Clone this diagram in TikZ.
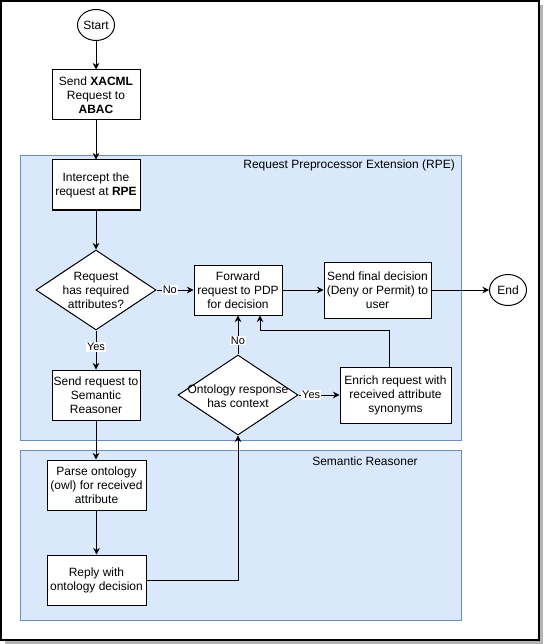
\documentclass[tikz,border=0pt]{standalone}
\usepackage{fontspec}
\setmainfont{Liberation Sans}
\usetikzlibrary{shapes.geometric,arrows.meta}

\definecolor{groupfill}{HTML}{DAE8FC}
\definecolor{groupline}{HTML}{6C8EBF}
\definecolor{shadowgray}{HTML}{B3B3B3}

\begin{document}
\begin{tikzpicture}[x=1pt,y=-1pt,
  font=\fontsize{12}{14}\selectfont,
  box/.style={draw,fill=white,line width=1pt,inner sep=0pt,align=center,
    minimum width=88,minimum height=50},
  term/.style={draw,fill=white,line width=1pt,ellipse,inner sep=0pt,
    minimum width=37,minimum height=31},
  decision/.style={draw,fill=white,line width=1pt,diamond,inner sep=0pt,
    minimum width=120,minimum height=80},
  dtext/.style={align=center,inner sep=0pt},
  group/.style={draw=groupline,fill=groupfill,line width=0.9pt,inner sep=0pt,
    anchor=north west},
  arr/.style={draw,line width=1pt,-{Stealth[length=6.5pt,width=6.5pt,inset=2pt]}},
  lbl/.style={fill=white,inner sep=0.8pt,font=\fontsize{11}{12}\selectfont}]

\useasboundingbox (0,0) rectangle (543,644);

% page frame with drop shadow
\fill[shadowgray] (5,5) rectangle (543,644);
\draw[line width=1.2pt,fill=white] (1,1) rectangle (539,640);

% swimlane groups
\node[group,minimum width=441,minimum height=285] (rpe) at (20,155) {};
\node[anchor=east,inner sep=0pt] (rpelbl) at (455,165) {Request Preprocessor Extension (RPE)};
\node[group,minimum width=441,minimum height=170] (sr) at (20,450) {};
\node[inner sep=0pt] (srlbl) at (365,461) {Semantic Reasoner};

% flow nodes
\node[term] (start) at (96,25) {Start};
\node[box] (xacml) at (96,95) {Send \textbf{XACML}\\Request to\\\textbf{ABAC}};
\node[box] (intercept) at (96,185) {Intercept the\\request at \textbf{RPE}};
\node[decision] (q1) at (96,290) {};
\node[dtext] (q1t) at (96,290) {Request\\has required\\attributes?};
\node[box] (sendsr) at (96,395) {Send request to\\Semantic\\Reasoner};
\node[box] (fwd) at (238,290) {Forward\\request to PDP\\for decision};
\node[box,minimum width=107,minimum height=56] (final) at (377.5,290) {Send final decision\\(Deny or Permit) to\\user};
\node[term] (end) at (508,290) {End};
\node[decision] (q2) at (238,395) {};
\node[dtext] (q2t) at (238,396) {Ontology response\\has context};
\node[box,minimum width=111,minimum height=56] (enrich) at (395.5,395) {Enrich request with\\received attribute\\synonyms};
\node[box,minimum width=99] (parse) at (96.5,485) {Parse ontology\\(owl) for received\\attribute};
\node[box,minimum width=99] (reply) at (96.5,580) {Reply with\\ontology decision};

\coordinate (bend) at (260,330);

% connectors
\draw[arr] (start) -- (xacml);
\draw[arr] (xacml) -- (intercept);
\draw[arr] (intercept) -- (q1);
\draw[arr] (q1) -- node[lbl,pos=0.42] {Yes} (sendsr);
\draw[arr] (q1) -- node[lbl,pos=0.36] {No} (fwd);
\draw[arr] (fwd) -- (final);
\draw[arr] (final) -- (end);
\draw[arr] (q2) -- node[lbl,pos=0.35] {No} (fwd);
\draw[arr] (q2) -- node[lbl,pos=0.31] {Yes} (enrich);
\draw[arr] ([xshift=-6.5pt]enrich.north) |- (bend) -- (bend |- fwd.south);
\draw[arr] (sendsr.south) -- (parse.north -| sendsr.south);
\draw[arr] (parse) -- (reply);
\draw[arr] (reply) -| (q2);

\end{tikzpicture}
\end{document}
